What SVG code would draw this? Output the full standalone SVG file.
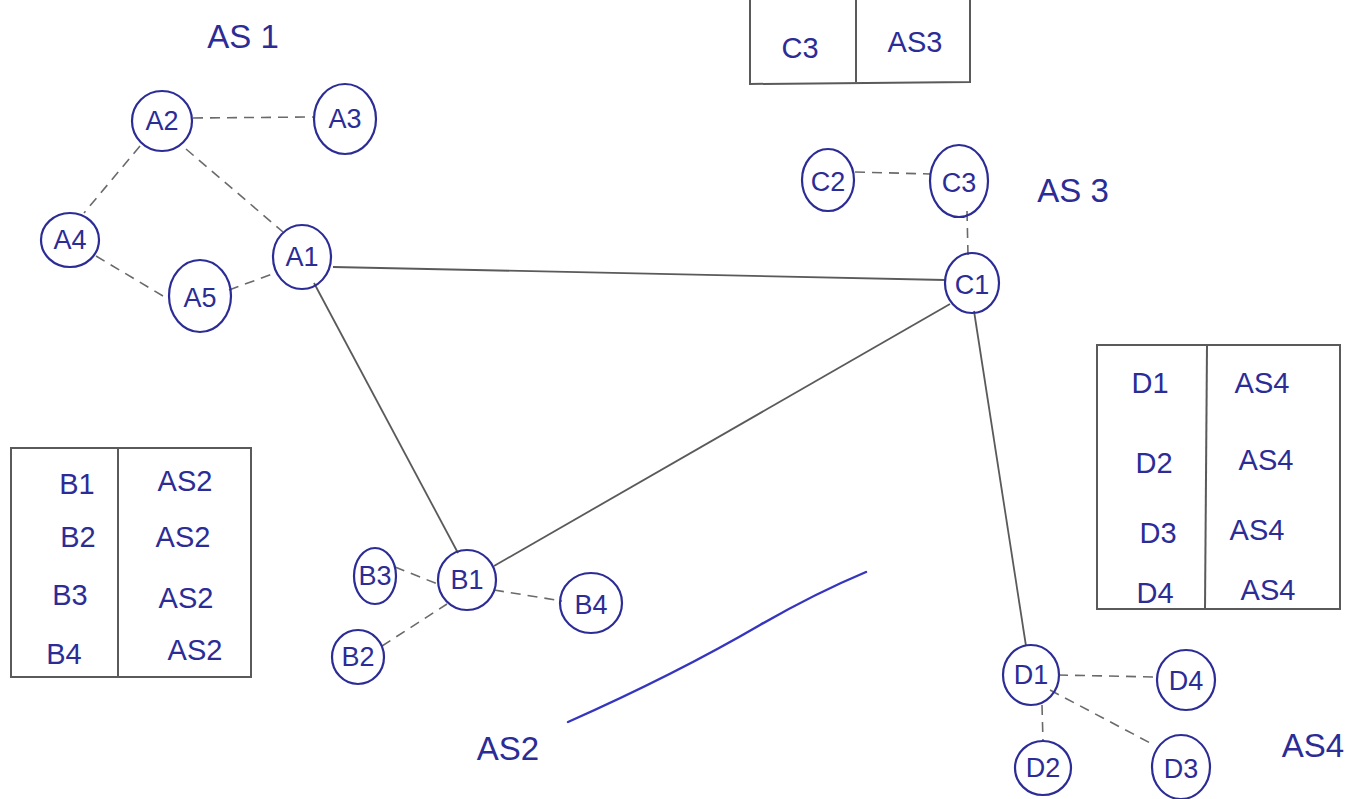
<svg xmlns="http://www.w3.org/2000/svg" width="1351" height="799" viewBox="0 0 1351 799">
<defs>
<style>
.bg{fill:#ffffff}
.node circle,.node ellipse{fill:none;stroke:#2c2c96;stroke-width:2.2}
.lbl{font-family:"Liberation Sans","DejaVu Sans",sans-serif;fill:#2c2c96;text-anchor:middle;dominant-baseline:central}
.nl{font-size:27px}
.big{font-size:33px}
.tl{font-size:29px}
.solid{stroke:#5a5a5a;stroke-width:1.8;fill:none}
.dash{stroke:#6a6a6a;stroke-width:1.6;stroke-dasharray:10 7;fill:none}
.tbl{fill:none;stroke:#5a5a5a;stroke-width:2}
.ink{stroke:#3535c0;stroke-width:2.4;fill:none;stroke-linecap:round}
</style>
</defs>
<rect class="bg" x="0" y="0" width="1351" height="799"/>

<g id="connectors">
<line class="solid" x1="333" y1="267" x2="945" y2="280"/>
<line class="solid" x1="314" y1="283" x2="458" y2="553"/>
<line class="solid" x1="950" y1="304" x2="494" y2="566"/>
<line class="solid" x1="974" y1="311" x2="1026" y2="646"/>
<line class="dash" x1="193" y1="118" x2="313" y2="117"/>
<line class="dash" x1="140" y1="146" x2="84" y2="213"/>
<line class="dash" x1="186" y1="149" x2="283" y2="232"/>
<line class="dash" x1="96" y1="256" x2="168" y2="299"/>
<line class="dash" x1="229" y1="290" x2="275" y2="273"/>
<line class="dash" x1="855" y1="172" x2="930" y2="174"/>
<line class="dash" x1="967" y1="211" x2="968" y2="255"/>
<line class="dash" x1="395" y1="567" x2="440" y2="585"/>
<line class="dash" x1="382" y1="646" x2="447" y2="604"/>
<line class="dash" x1="494" y1="590" x2="562" y2="601"/>
<line class="dash" x1="1058" y1="675" x2="1156" y2="677"/>
<line class="dash" x1="1050" y1="690" x2="1154" y2="745"/>
<line class="dash" x1="1042" y1="705" x2="1043" y2="741"/>
</g>

<g id="label-as1"><text class="lbl big" x="243" y="36">AS 1</text></g>
<g id="label-as3"><text class="lbl big" x="1073" y="190">AS 3</text></g>
<g id="label-as2">
<path class="ink" d="M568,722 C640,690 700,660 760,625 C800,602 835,585 866,572"/>
<text class="lbl big" x="508" y="748">AS2</text>
</g>
<g id="label-as4"><text class="lbl big" x="1313" y="745">AS4</text></g>

<g id="node-A2" class="node"><circle cx="162" cy="121" r="30"/><text class="lbl nl" x="162" y="121">A2</text></g>
<g id="node-A3" class="node"><ellipse cx="345" cy="119" rx="31" ry="35"/><text class="lbl nl" x="345" y="119">A3</text></g>
<g id="node-A4" class="node"><ellipse cx="70" cy="240" rx="29" ry="27"/><text class="lbl nl" x="70" y="240">A4</text></g>
<g id="node-A5" class="node"><ellipse cx="200" cy="296" rx="31" ry="36"/><text class="lbl nl" x="200" y="298">A5</text></g>
<g id="node-A1" class="node"><ellipse cx="302" cy="257" rx="29" ry="32"/><text class="lbl nl" x="302" y="257">A1</text></g>

<g id="node-C2" class="node"><ellipse cx="828" cy="180" rx="26" ry="31"/><text class="lbl nl" x="828" y="182">C2</text></g>
<g id="node-C3" class="node"><ellipse cx="959" cy="181" rx="29" ry="36"/><text class="lbl nl" x="959" y="183">C3</text></g>
<g id="node-C1" class="node"><ellipse cx="972" cy="283" rx="27" ry="30"/><text class="lbl nl" x="972" y="285">C1</text></g>

<g id="node-B1" class="node"><ellipse cx="467" cy="580" rx="29" ry="30"/><text class="lbl nl" x="467" y="580">B1</text></g>
<g id="node-B3" class="node"><ellipse cx="375" cy="576" rx="21" ry="28"/><text class="lbl nl" x="375" y="576">B3</text></g>
<g id="node-B2" class="node"><ellipse cx="358" cy="657" rx="26" ry="27"/><text class="lbl nl" x="358" y="657">B2</text></g>
<g id="node-B4" class="node"><ellipse cx="591" cy="603" rx="31" ry="30"/><text class="lbl nl" x="591" y="605">B4</text></g>

<g id="node-D1" class="node"><ellipse cx="1031" cy="675" rx="28" ry="30"/><text class="lbl nl" x="1031" y="675">D1</text></g>
<g id="node-D4" class="node"><ellipse cx="1186" cy="680" rx="29" ry="30"/><text class="lbl nl" x="1186" y="681">D4</text></g>
<g id="node-D2" class="node"><ellipse cx="1043" cy="768" rx="28" ry="27"/><text class="lbl nl" x="1043" y="768">D2</text></g>
<g id="node-D3" class="node"><ellipse cx="1181" cy="767" rx="29" ry="32"/><text class="lbl nl" x="1181" y="769">D3</text></g>

<g id="table-as3">
<polyline class="tbl" points="750,0 750,84 970,82 970,0"/>
<line class="tbl" x1="856" y1="0" x2="856" y2="82"/>
<text class="lbl tl" x="800" y="48">C3</text>
<text class="lbl tl" x="915" y="42">AS3</text>
</g>

<g id="table-as2">
<rect class="tbl" x="11" y="448" width="240" height="229"/>
<line class="tbl" x1="118" y1="448" x2="118" y2="677"/>
<text class="lbl tl" x="77" y="484">B1</text>
<text class="lbl tl" x="185" y="481">AS2</text>
<text class="lbl tl" x="78" y="537">B2</text>
<text class="lbl tl" x="183" y="537">AS2</text>
<text class="lbl tl" x="70" y="595">B3</text>
<text class="lbl tl" x="186" y="598">AS2</text>
<text class="lbl tl" x="64" y="654">B4</text>
<text class="lbl tl" x="195" y="650">AS2</text>
</g>

<g id="table-as4">
<rect class="tbl" x="1097" y="345" width="243" height="264"/>
<line class="tbl" x1="1207" y1="345" x2="1205" y2="609"/>
<text class="lbl tl" x="1150" y="383">D1</text>
<text class="lbl tl" x="1262" y="383">AS4</text>
<text class="lbl tl" x="1154" y="463">D2</text>
<text class="lbl tl" x="1266" y="460">AS4</text>
<text class="lbl tl" x="1158" y="533">D3</text>
<text class="lbl tl" x="1257" y="530">AS4</text>
<text class="lbl tl" x="1155" y="593">D4</text>
<text class="lbl tl" x="1268" y="590">AS4</text>
</g>
</svg>
